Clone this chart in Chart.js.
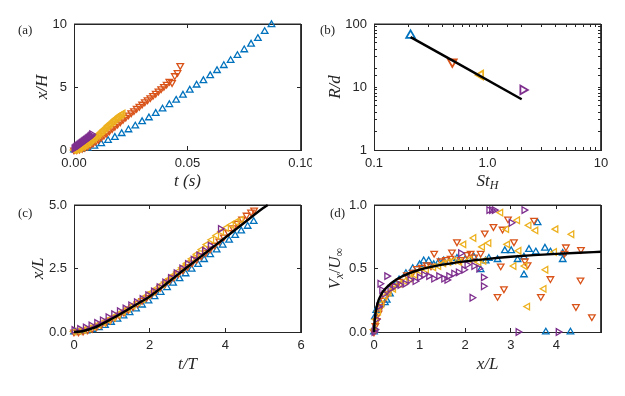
<!DOCTYPE html>
<html>
<head>
<meta charset="utf-8">
<script src="https://cdn.jsdelivr.net/npm/chart.js@4.4.1/dist/chart.umd.min.js"></script>
<style>
  body { margin: 0; background: #fff; }
  #wrap { position: relative; width: 625px; height: 396px; background: #fff; }
  #wrap canvas { position: absolute; }
</style>
</head>
<body>
<div id="wrap">
  <canvas id="chartA" width="312" height="198" style="left:0;top:0"></canvas>
  <canvas id="chartB" width="313" height="198" style="left:312px;top:0"></canvas>
  <canvas id="chartC" width="312" height="198" style="left:0;top:198px"></canvas>
  <canvas id="chartD" width="313" height="198" style="left:312px;top:198px"></canvas>
</div>
<script>
// ---- (a) x/H against t (s)
const aBlueT = [0, 0.003, 0.006, 0.009, 0.012, 0.015, 0.018, 0.021, 0.024, 0.027, 0.030, 0.033, 0.036, 0.039, 0.042, 0.045, 0.048, 0.051, 0.054, 0.057, 0.060, 0.063, 0.066, 0.069, 0.072, 0.075, 0.078, 0.081, 0.084, 0.087];
const aBlueX = [0, 0.05, 0.15, 0.3, 0.5, 0.75, 1.0, 1.3, 1.6, 1.9, 2.25, 2.55, 2.9, 3.25, 3.6, 3.95, 4.35, 4.75, 5.15, 5.5, 5.9, 6.3, 6.7, 7.1, 7.5, 7.95, 8.4, 8.85, 9.4, 9.95];
const aOrangeT = [0, 0.0012, 0.0024, 0.0036, 0.0048, 0.006, 0.0072, 0.0084, 0.0096, 0.0108, 0.012, 0.0132, 0.0144, 0.0156, 0.0168, 0.018, 0.0192, 0.0204, 0.0216, 0.0228, 0.024, 0.0252, 0.0264, 0.0276, 0.0288, 0.03, 0.0312, 0.0324, 0.0336, 0.0348, 0.036, 0.0372, 0.0384, 0.0396, 0.0408, 0.042, 0.0432, 0.0444, 0.0456, 0.0468];
const aOrangeX = [0, 0.02, 0.06, 0.12, 0.2, 0.3, 0.42, 0.55, 0.7, 0.85, 1.0, 1.17, 1.34, 1.52, 1.7, 1.88, 2.06, 2.24, 2.42, 2.6, 2.78, 2.95, 3.12, 3.3, 3.47, 3.64, 3.82, 3.98, 4.15, 4.33, 4.5, 4.68, 4.86, 5.04, 5.22, 5.45, 5.35, 5.9, 6.15, 6.7];
const aYellowT = [0, 0.0006, 0.0012, 0.0018, 0.0024, 0.003, 0.0036, 0.0042, 0.0048, 0.0054, 0.006, 0.0066, 0.0072, 0.0078, 0.0084, 0.009, 0.0096, 0.0102, 0.0108, 0.0114, 0.012, 0.0126, 0.0132, 0.0138, 0.0144, 0.015, 0.0156, 0.0162, 0.0168, 0.0174, 0.018, 0.0186, 0.0192, 0.0198, 0.0204, 0.021, 0.0216];
const aYellowX = [0, 0.02, 0.05, 0.09, 0.14, 0.19, 0.25, 0.31, 0.38, 0.45, 0.52, 0.6, 0.68, 0.76, 0.85, 0.94, 1.03, 1.12, 1.21, 1.31, 1.41, 1.51, 1.61, 1.71, 1.81, 1.91, 2.01, 2.11, 2.2, 2.3, 2.4, 2.49, 2.58, 2.67, 2.75, 2.83, 2.9];
const aPurpleT = [0, 0.0003, 0.0006, 0.0009, 0.0012, 0.0015, 0.0018, 0.0021, 0.0024, 0.0027, 0.003, 0.0033, 0.0036, 0.0039, 0.0042, 0.0045, 0.0048, 0.0051, 0.0054, 0.0057, 0.006, 0.0063, 0.0066, 0.0069, 0.0072, 0.0075, 0.0078];
const aPurpleX = [0.1, 0.15, 0.2, 0.24, 0.28, 0.32, 0.36, 0.4, 0.44, 0.48, 0.52, 0.56, 0.6, 0.64, 0.68, 0.72, 0.76, 0.8, 0.84, 0.88, 0.92, 0.96, 1.0, 1.05, 1.1, 1.15, 1.25];

// ---- (b) R/d against St_H (log-log)
const bSt = [0.21, 0.49, 0.87, 2.05];
const bR = [66, 25, 15.5, 9];
const bFitSt = [0.21, 2.0];
const bFitR = [62, 6.4];

// ---- (c) x/L against t/T
const cBlueT = [0, 0.16, 0.33, 0.49, 0.66, 0.82, 0.98, 1.15, 1.31, 1.47, 1.64, 1.80, 1.97, 2.13, 2.29, 2.46, 2.62, 2.79, 2.95, 3.11, 3.28, 3.44, 3.60, 3.77, 3.93, 4.10, 4.26, 4.42, 4.59, 4.75];
const cBlueX = [0, 0.01, 0.04, 0.09, 0.17, 0.26, 0.38, 0.50, 0.63, 0.76, 0.91, 1.06, 1.22, 1.39, 1.56, 1.74, 1.92, 2.10, 2.29, 2.47, 2.66, 2.85, 3.04, 3.23, 3.42, 3.61, 3.80, 3.98, 4.16, 4.35];
const cOrangeT = [0, 0.12, 0.24, 0.36, 0.48, 0.6, 0.72, 0.84, 0.96, 1.08, 1.2, 1.32, 1.44, 1.56, 1.68, 1.8, 1.92, 2.04, 2.16, 2.28, 2.4, 2.52, 2.64, 2.76, 2.88, 3.0, 3.12, 3.24, 3.36, 3.48, 3.6, 3.72, 3.84, 3.96, 4.08, 4.2, 4.32, 4.44, 4.56, 4.68, 4.76];
const cOrangeX = [0, 0.0, 0.03, 0.08, 0.14, 0.21, 0.29, 0.38, 0.47, 0.57, 0.67, 0.78, 0.89, 1.0, 1.12, 1.24, 1.36, 1.49, 1.62, 1.76, 1.89, 2.02, 2.16, 2.3, 2.44, 2.58, 2.72, 2.86, 3.0, 3.13, 3.27, 3.42, 3.58, 3.74, 3.92, 4.1, 4.28, 4.45, 4.6, 4.72, 4.8];
const cYellowT = [0, 0.13, 0.26, 0.39, 0.52, 0.65, 0.78, 0.91, 1.04, 1.17, 1.3, 1.43, 1.56, 1.69, 1.82, 1.95, 2.08, 2.21, 2.34, 2.47, 2.6, 2.73, 2.86, 2.99, 3.12, 3.25, 3.38, 3.51, 3.64, 3.77, 3.9, 4.03, 4.16, 4.29, 4.42];
const cYellowX = [0.02, 0.04, 0.08, 0.14, 0.21, 0.29, 0.38, 0.48, 0.58, 0.69, 0.80, 0.92, 1.04, 1.17, 1.30, 1.44, 1.58, 1.73, 1.88, 2.04, 2.20, 2.36, 2.53, 2.70, 2.88, 3.06, 3.25, 3.44, 3.63, 3.80, 3.95, 4.10, 4.22, 4.33, 4.42];
const cPurpleT = [0, 0.15, 0.30, 0.45, 0.60, 0.75, 0.90, 1.05, 1.20, 1.35, 1.50, 1.65, 1.80, 1.95, 2.10, 2.25, 2.40, 2.55, 2.70, 2.85, 3.00, 3.15, 3.30, 3.45, 3.60, 3.87];
const cPurpleX = [0.08, 0.12, 0.18, 0.26, 0.36, 0.46, 0.58, 0.70, 0.82, 0.93, 1.05, 1.17, 1.30, 1.45, 1.60, 1.77, 1.95, 2.13, 2.32, 2.50, 2.68, 2.85, 3.02, 3.20, 3.40, 4.06];
const cFitT = [0, 0.25, 0.5, 0.75, 1.0, 1.25, 1.5, 1.75, 2.0, 2.5, 3.0, 3.5, 4.0, 4.5, 5.0, 5.12];
const cFitX = [0, 0.04, 0.15, 0.32, 0.52, 0.73, 0.95, 1.17, 1.40, 1.97, 2.56, 3.14, 3.72, 4.30, 4.88, 5.0];

// ---- (d) Vx/Uinf against x/L
const dBlueX = [0, 0.01, 0.02, 0.05, 0.1, 0.15, 0.24, 0.28, 0.35, 0.43, 0.55, 0.7, 0.85, 1.0, 1.09, 1.2, 1.31, 1.42, 1.53, 1.65, 1.82, 2.0, 2.19, 2.34, 2.45, 2.52, 2.71, 2.87, 3.01, 3.15, 3.29, 3.29, 3.4, 3.55, 3.59, 3.75, 3.87, 4.14, 4.14, 3.77, 4.31];
const dBlueV = [0, 0.03, 0.12, 0.17, 0.2, 0.22, 0.23, 0.25, 0.3, 0.37, 0.41, 0.46, 0.5, 0.53, 0.56, 0.56, 0.53, 0.55, 0.56, 0.55, 0.58, 0.57, 0.59, 0.49, 0.56, 0.58, 0.57, 0.64, 0.64, 0.57, 0.45, 0.59, 0.65, 0.63, 0.86, 0.66, 0.63, 0.57, 0.62, 0, 0];
const dOrangeX = [0, 0.03, 0.06, 0.1, 0.15, 0.21, 0.3, 0.43, 0.55, 0.72, 0.85, 0.94, 1.05, 1.16, 1.25, 1.32, 1.46, 1.58, 1.68, 1.71, 1.82, 1.9, 2.04, 2.12, 2.2, 2.34, 2.43, 2.62, 2.71, 2.78, 2.82, 2.85, 2.94, 3.07, 3.31, 3.37, 3.51, 3.66, 3.87, 4.18, 4.21, 4.43, 4.53, 4.54, 4.78];
const dOrangeV = [0, 0.05, 0.09, 0.15, 0.2, 0.25, 0.3, 0.36, 0.4, 0.45, 0.47, 0.5, 0.51, 0.53, 0.52, 0.62, 0.56, 0.57, 0.58, 0.63, 0.71, 0.57, 0.61, 0.62, 0.59, 0.62, 0.78, 0.83, 0.28, 0.52, 0.81, 0.34, 0.89, 0.71, 0.56, 0.53, 0.88, 0.28, 0.42, 0.62, 0.67, 0.2, 0.41, 0.65, 0.12];
const dYellowX = [0, 0.04, 0.1, 0.17, 0.24, 0.33, 0.43, 0.57, 0.68, 0.79, 0.9, 1.01, 1.15, 1.31, 1.42, 1.53, 1.64, 1.75, 1.88, 1.97, 2.1, 2.19, 2.3, 2.38, 2.41, 2.52, 2.78, 2.91, 2.93, 3.07, 3.15, 3.18, 3.31, 3.37, 3.4, 3.55, 3.73, 3.77, 3.96, 3.99, 4.34];
const dYellowV = [0.02, 0.1, 0.16, 0.22, 0.28, 0.31, 0.34, 0.38, 0.4, 0.42, 0.45, 0.48, 0.49, 0.51, 0.52, 0.54, 0.55, 0.56, 0.55, 0.69, 0.57, 0.74, 0.55, 0.67, 0.56, 0.7, 0.94, 0.81, 0.69, 0.52, 0.88, 0.64, 0.52, 0.2, 0.84, 0.8, 0.34, 0.49, 0.63, 0.81, 0.77];
const dPurpleX = [0, 0.02, 0.05, 0.1, 0.13, 0.17, 0.22, 0.28, 0.35, 0.45, 0.57, 0.68, 0.79, 0.9, 1.0, 1.09, 1.2, 1.31, 1.42, 1.53, 1.6, 1.64, 1.75, 1.85, 1.9, 1.97, 2.04, 2.15, 2.19, 2.3, 2.4, 2.4, 2.52, 2.58, 2.64, 3.01, 3.16, 3.29, 4.04];
const dPurpleV = [0, 0.02, 0.1, 0.2, 0.38, 0.33, 0.3, 0.44, 0.34, 0.36, 0.37, 0.38, 0.41, 0.4, 0.43, 0.45, 0.44, 0.42, 0.44, 0.42, 0.41, 0.44, 0.46, 0.47, 0.62, 0.49, 0.53, 0.27, 0.52, 0.5, 0.36, 0.43, 0.96, 0.96, 0.96, 0.86, 0, 0.96, 0];
const dFitX = [0, 0.01, 0.03, 0.06, 0.1, 0.15, 0.2, 0.3, 0.5, 0.75, 1.0, 1.5, 2.0, 2.5, 3.0, 3.5, 4.0, 4.5, 4.98];
const dFitV = [0, 0.07, 0.14, 0.2, 0.25, 0.29, 0.32, 0.36, 0.415, 0.46, 0.49, 0.53, 0.556, 0.576, 0.592, 0.605, 0.615, 0.624, 0.632];

const BLUE = '#0072BD', ORANGE = '#D95319', YELLOW = '#EDB120', PURPLE = '#7E2F8E';
const AXIS = '#262626';
const TICK_FONT = { family: 'Liberation Sans', size: 13 };
const TITLE_FONT = { family: 'Liberation Serif', size: 17, style: 'italic', lineHeight: 1.2 };

function pts(xs, ys) {
    return xs.map((x, i) => ({ x: x, y: ys[i] }));
}

function markers(xs, ys, color, rot, r, bw) {
    return {
        data: pts(xs, ys),
        pointStyle: 'triangle',
        rotation: rot,
        pointRadius: r,
        pointHoverRadius: r,
        borderColor: color,
        backgroundColor: 'rgba(0,0,0,0)',
        borderWidth: bw,
        showLine: false,
        clip: false
    };
}

function fitLine(xs, ys) {
    return {
        data: pts(xs, ys),
        showLine: true,
        borderColor: '#000',
        borderWidth: 2.4,
        pointRadius: 0,
        cubicInterpolationMode: 'monotone',
        clip: false
    };
}

// top and right edges of the axes box, following the axis limits
function frame(xMin, xMax, yMin, yMax) {
    return {
        data: [{ x: xMin, y: yMax }, { x: xMax, y: yMax }, { x: xMax, y: yMin }],
        showLine: true,
        borderColor: AXIS,
        borderWidth: 1,
        pointRadius: 0,
        tension: 0,
        clip: false
    };
}

// draws text made of pieces (italic, subscripts) centred on cx, cy
function drawRich(ctx, parts, cx, cy, rot) {
    ctx.save();
    ctx.translate(cx, cy);
    ctx.rotate(rot);
    let w = 0;
    parts.forEach(p => { ctx.font = p.f; p.w = ctx.measureText(p.t).width; w += p.w; });
    let x = -w / 2;
    ctx.textBaseline = 'middle';
    ctx.fillStyle = AXIS;
    parts.forEach(p => { ctx.font = p.f; ctx.fillText(p.t, x, p.dy || 0); x += p.w; });
    ctx.restore();
}

// panel tag and the titles that need subscripts
const tagPlugin = {
    id: 'paneltag',
    afterDraw(chart, args, opts) {
        const ctx = chart.ctx;
        ctx.save();
        ctx.font = '13px "Liberation Serif"';
        ctx.fillStyle = AXIS;
        ctx.textBaseline = 'middle';
        ctx.textAlign = 'left';
        ctx.fillText(opts.tag, opts.tagX, opts.tagY);
        ctx.restore();
        if (opts.rich) opts.rich.forEach(r => drawRich(ctx, r.parts, r.x, r.y, r.rot));
    }
};

// top / right axes: frame line and inward ticks only (1px thick box)
function edgeAxis(position, type, min, max, ticks, tl) {
    return {
        type: type, position: position, min: min, max: max,
        grid: { display: true, drawOnChartArea: false, drawTicks: true, tickLength: tl, color: AXIS, lineWidth: 1 },
        border: { display: true, color: AXIS, width: 1 },
        ticks: Object.assign({}, ticks, { display: false, autoSkip: false }),
        afterFit(s) {
            if (s.isHorizontal()) s.height = 1; else s.width = 1;
            s.paddingLeft = 0; s.paddingRight = 0; s.paddingTop = 0; s.paddingBottom = 0;
        }
    };
}

function makeOptions(o) {
    const tl = o.tl || -4;
    return {
        responsive: false,
        animation: false,
        layout: { padding: { left: 0, top: o.top - 1, right: o.right - 1, bottom: 0 } },
        plugins: {
            legend: { display: false },
            tooltip: { enabled: false },
            paneltag: o.box
        },
        scales: {
            x: {
                type: o.xType || 'linear',
                min: o.xMin, max: o.xMax,
                grid: { display: true, drawOnChartArea: false, drawTicks: true, tickLength: tl, color: AXIS, lineWidth: 1 },
                border: { display: true, color: AXIS, width: 1 },
                ticks: Object.assign({ color: AXIS, font: TICK_FONT, padding: 6 - tl, maxRotation: 0, autoSkip: false }, o.xTicks),
                title: { display: !!o.xTitle, text: o.xTitle, color: AXIS, font: TITLE_FONT, padding: { top: 0, bottom: o.xTitlePad || 0 } },
                afterFit(s) { s.height = o.xh; s.paddingLeft = 0; s.paddingRight = 0; }
            },
            y: {
                type: o.yType || 'linear',
                min: o.yMin, max: o.yMax,
                grid: { display: true, drawOnChartArea: false, drawTicks: true, tickLength: tl, color: AXIS, lineWidth: 1 },
                border: { display: true, color: AXIS, width: 1 },
                ticks: Object.assign({ color: AXIS, font: TICK_FONT, padding: 7 - tl, autoSkip: false }, o.yTicks),
                title: { display: !!o.yTitle, text: o.yTitle, color: AXIS, font: TITLE_FONT, padding: { top: o.yTitlePad || 0, bottom: 0 } },
                afterFit(s) { s.width = o.yw; s.paddingTop = 0; s.paddingBottom = 0; }
            },
            x2: edgeAxis('top', o.xType || 'linear', o.xMin, o.xMax, o.xTicks, tl),
            y2: edgeAxis('right', o.yType || 'linear', o.yMin, o.yMax, o.yTicks, tl)
        }
    };
}

const SMALL = 3.8, SMALL_BW = 1.3;

// (a)
const aLim = [0, 0.1, 0, 10];
new Chart(document.getElementById('chartA'), {
    type: 'scatter',
    data: {
        datasets: [
            markers(aPurpleT, aPurpleX, PURPLE, 90, SMALL, SMALL_BW),
            markers(aYellowT, aYellowX, YELLOW, -90, SMALL, SMALL_BW),
            markers(aOrangeT, aOrangeX, ORANGE, 180, SMALL, SMALL_BW),
            markers(aBlueT, aBlueX, BLUE, 0, SMALL, SMALL_BW),
            frame(...aLim)
        ]
    },
    options: makeOptions({
        top: 24, right: 11, xh: 48, yw: 74,
        xMin: aLim[0], xMax: aLim[1], yMin: aLim[2], yMax: aLim[3],
        xTicks: { stepSize: 0.05, callback: v => v.toFixed(2) },
        yTicks: { stepSize: 5, callback: v => String(v) },
        xTitle: 't (s)', xTitlePad: 6,
        yTitle: 'x/H', yTitlePad: 32,
        box: { tag: '(a)', tagX: 18, tagY: 31 }
    }),
    plugins: [tagPlugin]
});

// (b)
const bLim = [0.1, 10, 1, 100];
const isMajor = v => Math.abs(Math.log10(v) - Math.round(Math.log10(v))) < 1e-6;
new Chart(document.getElementById('chartB'), {
    type: 'scatter',
    data: {
        datasets: [
            fitLine(bFitSt, bFitR),
            markers([bSt[3]], [bR[3]], PURPLE, 90, 5, 1.8),
            markers([bSt[2]], [bR[2]], YELLOW, -90, 5, 1.8),
            markers([bSt[1]], [bR[1]], ORANGE, 180, 5, 1.8),
            markers([bSt[0]], [bR[0]], BLUE, 0, 5, 1.8),
            frame(...bLim)
        ]
    },
    options: makeOptions({
        top: 24, right: 24, xh: 48, yw: 62, tl: -3,
        xType: 'logarithmic', yType: 'logarithmic',
        xMin: bLim[0], xMax: bLim[1], yMin: bLim[2], yMax: bLim[3],
        xTicks: { callback: v => isMajor(v) ? (v < 0.5 ? '0.1' : v < 5 ? '1.0' : '10') : '' },
        yTicks: { callback: v => isMajor(v) ? String(Math.round(v)) : '' },
        yTitle: 'R/d', yTitlePad: 13,
        box: {
            tag: '(b)', tagX: 8, tagY: 31,
            rich: [{
                x: 175.5, y: 182, rot: 0,
                parts: [
                    { t: 'St', f: 'italic 17px "Liberation Serif"' },
                    { t: 'H', f: 'italic 12px "Liberation Serif"', dy: 4 }
                ]
            }]
        }
    }),
    plugins: [tagPlugin]
});

// (c)
const cLim = [0, 6, 0, 5];
new Chart(document.getElementById('chartC'), {
    type: 'scatter',
    data: {
        datasets: [
            fitLine(cFitT, cFitX),
            markers(cPurpleT, cPurpleX, PURPLE, 90, SMALL, SMALL_BW),
            markers(cYellowT, cYellowX, YELLOW, -90, SMALL, SMALL_BW),
            markers(cOrangeT, cOrangeX, ORANGE, 180, SMALL, SMALL_BW),
            markers(cBlueT, cBlueX, BLUE, 0, SMALL, SMALL_BW),
            frame(...cLim)
        ]
    },
    options: makeOptions({
        top: 7, right: 11, xh: 64, yw: 74,
        xMin: cLim[0], xMax: cLim[1], yMin: cLim[2], yMax: cLim[3],
        xTicks: { stepSize: 2, callback: v => String(v) },
        yTicks: { stepSize: 2.5, callback: v => v.toFixed(1) },
        xTitle: 't/T', xTitlePad: 21,
        yTitle: 'x/L', yTitlePad: 28,
        box: { tag: '(c)', tagX: 18, tagY: 16 }
    }),
    plugins: [tagPlugin]
});

// (d)
const dLim = [0, 4.98, 0, 1];
new Chart(document.getElementById('chartD'), {
    type: 'scatter',
    data: {
        datasets: [
            fitLine(dFitX, dFitV),
            markers(dPurpleX, dPurpleV, PURPLE, 90, SMALL, SMALL_BW),
            markers(dYellowX, dYellowV, YELLOW, -90, SMALL, SMALL_BW),
            markers(dOrangeX, dOrangeV, ORANGE, 180, SMALL, SMALL_BW),
            markers(dBlueX, dBlueV, BLUE, 0, SMALL, SMALL_BW),
            frame(...dLim)
        ]
    },
    options: makeOptions({
        top: 7, right: 24, xh: 64, yw: 62,
        xMin: dLim[0], xMax: dLim[1], yMin: dLim[2], yMax: dLim[3],
        xTicks: { stepSize: 1, includeBounds: false, callback: v => String(v) },
        yTicks: { stepSize: 0.5, callback: v => v.toFixed(1) },
        xTitle: 'x/L', xTitlePad: 21,
        box: {
            tag: '(d)', tagX: 18, tagY: 16,
            rich: [{
                x: 24, y: 70.5, rot: -Math.PI / 2,
                parts: [
                    { t: 'V', f: 'italic 17px "Liberation Serif"' },
                    { t: 'x', f: 'italic 12px "Liberation Serif"', dy: 4 },
                    { t: '/', f: '17px "Liberation Serif"' },
                    { t: 'U', f: 'italic 17px "Liberation Serif"' },
                    { t: '\u221E', f: '12px "Liberation Serif"', dy: 4 }
                ]
            }]
        }
    }),
    plugins: [tagPlugin]
});
</script>
</body>
</html>
